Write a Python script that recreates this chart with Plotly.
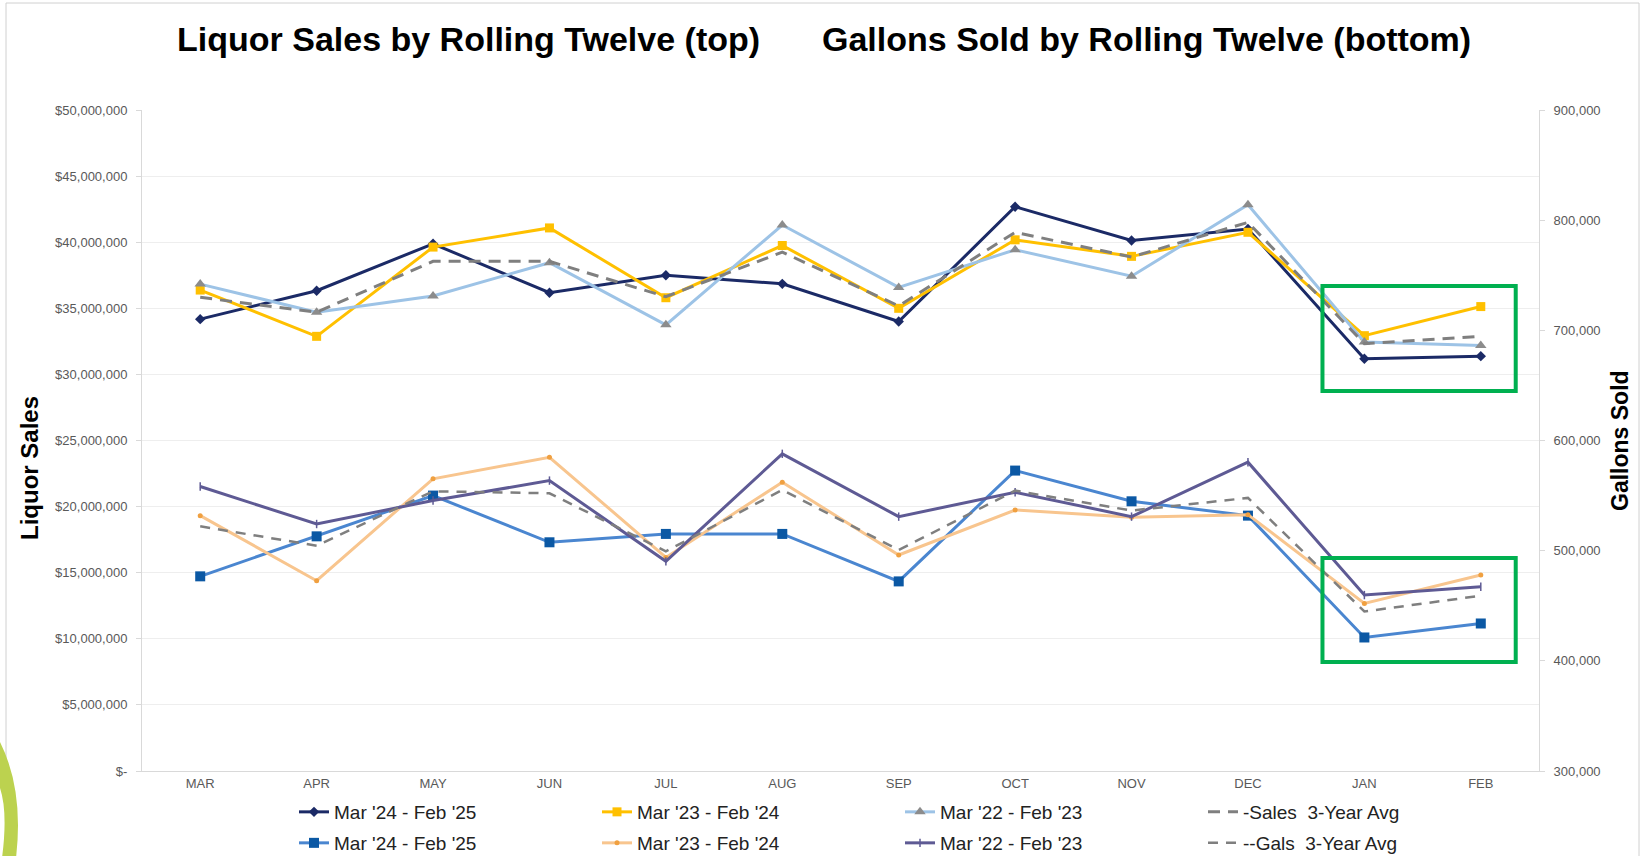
import plotly.graph_objects as go

# ---------------- data ----------------
months = ["MAR", "APR", "MAY", "JUN", "JUL", "AUG", "SEP", "OCT", "NOV", "DEC", "JAN", "FEB"]

sales_24_25 = [34180000, 36330000, 39880000, 36180000, 37500000, 36850000,
               34000000, 42680000, 40130000, 41000000, 31180000, 31380000]
sales_23_24 = [36380000, 32880000, 39630000, 41080000, 35800000, 39750000,
               35000000, 40180000, 38930000, 40750000, 32930000, 35130000]
sales_22_23 = [36830000, 34700000, 35930000, 38450000, 33750000, 41300000,
               36580000, 39430000, 37430000, 42830000, 32450000, 32180000]
sales_avg = [35830000, 34700000, 38550000, 38550000, 35880000, 39250000,
             35180000, 40750000, 38880000, 41500000, 32330000, 32880000]

gals_24_25 = [476700, 513000, 550000, 507600, 515200, 515200,
              472100, 572700, 544800, 531800, 421200, 433900]
gals_23_24 = [531800, 472700, 565200, 584800, 493900, 562100,
              496100, 536900, 530300, 532700, 452100, 477900]
gals_22_23 = [558200, 524200, 545500, 563600, 490300, 587900,
              530900, 553000, 530900, 580300, 459700, 467300]
gals_avg = [522100, 504500, 553900, 552100, 499400, 555200,
            500600, 554500, 536400, 547900, 444800, 459100]

sales_ticks = [0, 5000000, 10000000, 15000000, 20000000, 25000000,
               30000000, 35000000, 40000000, 45000000, 50000000]
sales_tick_labels = ["$-", "$5,000,000", "$10,000,000", "$15,000,000", "$20,000,000",
                     "$25,000,000", "$30,000,000", "$35,000,000", "$40,000,000",
                     "$45,000,000", "$50,000,000"]
gals_ticks = [300000, 400000, 500000, 600000, 700000, 800000, 900000]
gals_tick_labels = ["300,000", "400,000", "500,000", "600,000", "700,000", "800,000", "900,000"]

FONT = "Liberation Sans, Arial, sans-serif"
W, H = 1641, 856
L, R, T, B = 142, 1539, 110, 771


def px(x):
    return (x - L) / (R - L)


def py(y):
    return (B - y) / (B - T)


fig = go.Figure()

# Sales (left axis)
fig.add_trace(go.Scatter(x=months, y=sales_24_25, name="Mar '24 - Feb '25", mode="lines+markers",
                         line=dict(color="#1B2A66", width=3),
                         marker=dict(symbol="diamond", size=8, color="#1B2A66"), legend="legend"))
fig.add_trace(go.Scatter(x=months, y=sales_23_24, name="Mar '23 - Feb '24", mode="lines+markers",
                         line=dict(color="#FFC000", width=3),
                         marker=dict(symbol="square", size=9, color="#FFC000"), legend="legend"))
fig.add_trace(go.Scatter(x=months, y=sales_22_23, name="Mar '22 - Feb '23", mode="lines+markers",
                         line=dict(color="#9DC3E6", width=3),
                         marker=dict(symbol="triangle-up", size=10, color="#8C8C8C"), legend="legend"))
fig.add_trace(go.Scatter(x=months, y=sales_avg, name="-Sales  3-Year Avg", mode="lines",
                         line=dict(color="#7F7F7F", width=3, dash="12px,8px"), legend="legend"))

# Gallons (right axis)
fig.add_trace(go.Scatter(x=months, y=gals_24_25, name="Mar '24 - Feb '25", mode="lines+markers", yaxis="y2",
                         line=dict(color="#4A86D0", width=3),
                         marker=dict(symbol="square", size=10, color="#0B58A4"), legend="legend2"))
fig.add_trace(go.Scatter(x=months, y=gals_23_24, name="Mar '23 - Feb '24", mode="lines+markers", yaxis="y2",
                         line=dict(color="#F8C58E", width=3),
                         marker=dict(symbol="circle", size=5, color="#F0A040"), legend="legend2"))
fig.add_trace(go.Scatter(x=months, y=gals_22_23, name="Mar '22 - Feb '23", mode="lines+markers", yaxis="y2",
                         line=dict(color="#5E5A94", width=3),
                         marker=dict(symbol="line-ns", size=6, color="#5E5A94",
                                     line=dict(color="#5E5A94", width=1.5)), legend="legend2"))
fig.add_trace(go.Scatter(x=months, y=gals_avg, name="--Gals  3-Year Avg", mode="lines", yaxis="y2",
                         line=dict(color="#7F7F7F", width=2.5, dash="10px,8px"), legend="legend2"))

# Highlight boxes (in axis coordinates)
box_x = [9.64, 11.3]
top_box_y = [28740000, 36690000]
bottom_box_y = [8250000, 16110000]
for yy in (top_box_y, bottom_box_y):
    fig.add_shape(type="rect", xref="x", yref="y", x0=box_x[0], x1=box_x[1], y0=yy[0], y1=yy[1],
                  line=dict(color="#00B050", width=4), fillcolor="rgba(0,0,0,0)", layer="above")

# Slide frame and decorative corner
fig.add_shape(type="rect", xref="paper", yref="paper", x0=px(6), x1=px(1639), y0=py(3), y1=py(870),
              line=dict(color="#D0D0D0", width=1), layer="below")
corner = "M {:.5f},{:.5f} Q {:.5f},{:.5f} {:.5f},{:.5f} L {:.5f},{:.5f} Q {:.5f},{:.5f} {:.5f},{:.5f} Z".format(
    px(0), py(742), px(24), py(790), px(16), py(858), px(2), py(858), px(8), py(812), px(0), py(788))
fig.add_shape(type="path", xref="paper", yref="paper", path=corner,
              fillcolor="#BCD24F", line=dict(width=0), layer="above")

# Titles
title_font = dict(family=FONT, size=34, color="#000000")
fig.add_annotation(text="<b>Liquor Sales by Rolling Twelve (top)</b>", xref="paper", yref="paper",
                   x=px(468), y=py(39), showarrow=False, font=title_font, xanchor="center", yanchor="middle")
fig.add_annotation(text="<b>Gallons Sold by Rolling Twelve (bottom)</b>", xref="paper", yref="paper",
                   x=px(1146), y=py(39), showarrow=False, font=title_font, xanchor="center", yanchor="middle")
axis_title_font = dict(family=FONT, size=24, color="#000000")
fig.add_annotation(text="<b>Liquor Sales</b>", xref="paper", yref="paper", x=px(29), y=py(468),
                   textangle=-90, showarrow=False, font=axis_title_font, xanchor="center", yanchor="middle")
fig.add_annotation(text="<b>Gallons Sold</b>", xref="paper", yref="paper", x=px(1620), y=py(441),
                   textangle=-90, showarrow=False, font=dict(family=FONT, size=23, color="#000000"),
                   xanchor="center", yanchor="middle")

tick_font = dict(family=FONT, size=13, color="#595959")
legend_font = dict(family=FONT, size=19, color="#222222")

legend_common = dict(orientation="h", xref="container", yref="container", xanchor="left", yanchor="top",
                     entrywidth=258, entrywidthmode="pixels", font=legend_font, itemwidth=30,
                     bgcolor="rgba(0,0,0,0)", traceorder="normal", tracegroupgap=0)

fig.update_layout(
    width=W, height=H,
    margin=dict(l=L, r=W - R, t=T, b=H - B, pad=0, autoexpand=False),
    paper_bgcolor="white", plot_bgcolor="white",
    font=dict(family=FONT),
    showlegend=True,
    xaxis=dict(type="category", range=[-0.5, 11.5], showgrid=False, showline=True, linecolor="#D9D9D9",
               linewidth=1, tickfont=tick_font, ticks="", zeroline=False),
    yaxis=dict(range=[0, 50000000], tickvals=sales_ticks, ticktext=sales_tick_labels,
               showgrid=True, gridcolor="#EEEEEE", gridwidth=1, showline=True, linecolor="#D9D9D9",
               ticks="outside", ticklen=5, tickcolor="#D9D9D9", tickfont=tick_font,
               ticklabelstandoff=6, zeroline=False),
    yaxis2=dict(range=[300000, 900000], tickvals=gals_ticks, ticktext=gals_tick_labels,
                overlaying="y", side="right", showgrid=False, showline=True, linecolor="#D9D9D9",
                ticks="outside", ticklen=5, tickcolor="#D9D9D9", tickfont=tick_font,
                ticklabelstandoff=6, zeroline=False),
    legend=dict(x=294 / W, y=1 - 793 / H, **legend_common),
    legend2=dict(x=294 / W, y=1 - 824 / H, **legend_common),
)

fig.write_html("out.html")
